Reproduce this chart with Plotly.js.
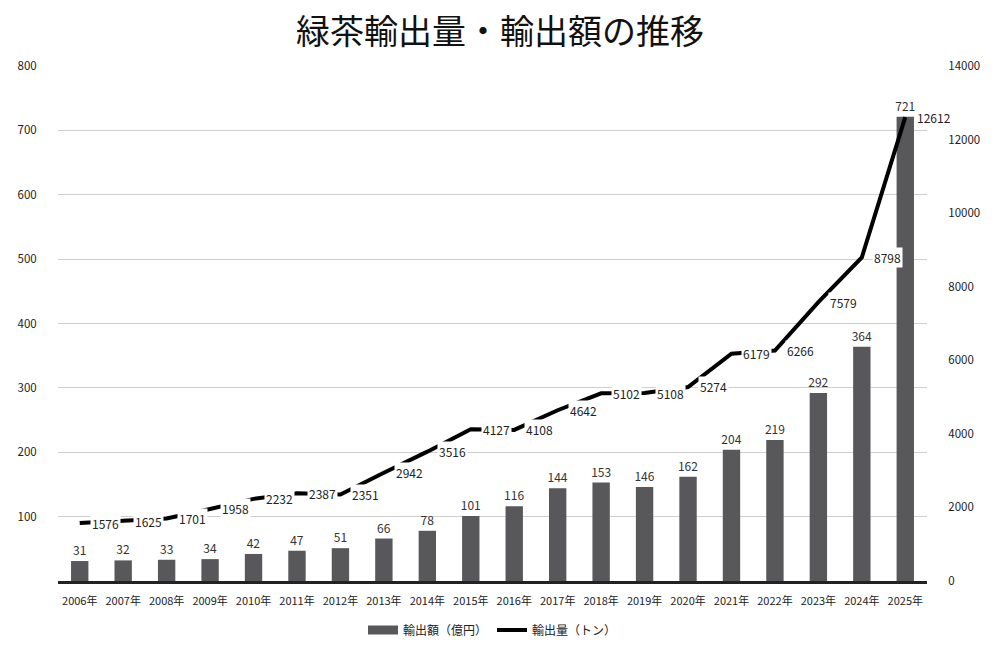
<!DOCTYPE html>
<html><head><meta charset="utf-8">
<script src="https://cdn.plot.ly/plotly-3.0.1.min.js"></script>
<style>body{margin:0;background:#fff}#c{width:1000px;height:645px}</style>
</head><body><div id="c"></div>
<script>
const years = ["2006年","2007年","2008年","2009年","2010年","2011年","2012年","2013年","2014年","2015年","2016年","2017年","2018年","2019年","2020年","2021年","2022年","2023年","2024年","2025年"];
const exportValue = [31,32,33,34,42,47,51,66,78,101,116,144,153,146,162,204,219,292,364,721];
const exportVolume = [1576,1625,1701,1958,2232,2387,2351,2942,3516,4127,4108,4642,5102,5108,5274,6179,6266,7579,8798,12612];
const leftTicks = [100,200,300,400,500,600,700,800];
const rightTicks = [0,2000,4000,6000,8000,10000,12000,14000];

const font = "'Noto Sans CJK JP', 'Noto Sans', sans-serif";

const bars = {
  type:'bar', x: years, y: exportValue, name:'輸出額（億円）', showlegend:false,
  marker:{color:'#58585b'}, width:0.4,
  text: exportValue.map(String), textposition:'outside', cliponaxis:false, constraintext:'none',
  textfont:{size:12, color:'#333', family:font}, yaxis:'y'
};
const barLegend = {
  type:'scatter', mode:'lines', x:[years[0]], y:[null], name:'輸出額（億円）',
  line:{color:'#58585b', width:9}, yaxis:'y', hoverinfo:'skip'
};
const line = {
  type:'scatter', mode:'lines', x: years, y: exportVolume, name:'輸出量（トン）',
  line:{color:'#000', width:4}, yaxis:'y2'
};
const annotations = years.map((yr,i)=>({
  x: yr, y: exportVolume[i], yref:'y2', xref:'x', text:String(exportVolume[i]),
  showarrow:false, xanchor:'left', yanchor:'middle', xshift:10,
  bgcolor:'#fff', borderpad:1, font:{size:12, color:'#222', family:font}
}));

const layout = {
  width:1000, height:645,
  margin:{l:58, r:73, t:66, b:64, autoexpand:false},
  paper_bgcolor:'#fff', plot_bgcolor:'#fff',
  font:{family:font, color:'#222', size:11},
  title:{text:'緑茶輸出量・輸出額の推移', x:0.5, xanchor:'center', y:0.95, yanchor:'middle', font:{size:34, color:'#111', family:font}},
  showlegend:true,
  legend:{orientation:'h', x:0.5, xanchor:'center', y:-0.095, yanchor:'middle', font:{size:12, family:font}},
  xaxis:{type:'category', categoryarray:years, range:[-0.5, years.length-0.5], showline:true, linecolor:'#222', linewidth:2.5, ticks:'outside', ticklen:8, tickcolor:'rgba(0,0,0,0)', tickfont:{size:11}, showgrid:false, zeroline:false},
  yaxis:{range:[0,800], tickvals:leftTicks, showgrid:true, gridcolor:'#cfcfcf', gridwidth:1, zeroline:false, ticks:'outside', ticklen:18, tickcolor:'rgba(0,0,0,0)', tickfont:{size:11.5}},
  yaxis2:{range:[0,14000], tickvals:rightTicks, ticktext:rightTicks.map(String), overlaying:'y', side:'right', showgrid:false, zeroline:false, ticks:'outside', ticklen:18, tickcolor:'rgba(0,0,0,0)', tickfont:{size:11.5}},
  annotations: annotations
};
Plotly.newPlot('c',[bars,barLegend,line],layout,{displayModeBar:false});
</script></body></html>
